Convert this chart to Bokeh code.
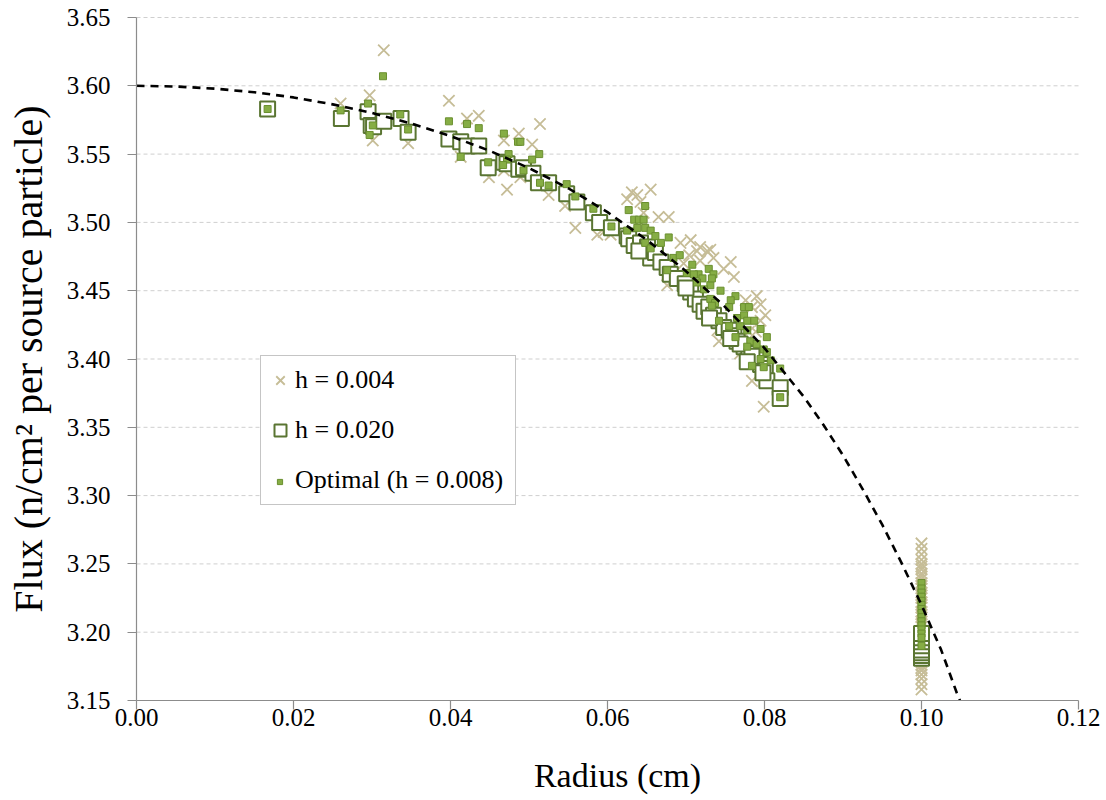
import math
from bokeh.plotting import figure
from bokeh.models import (Range1d, FixedTicker, Legend, LegendItem, ColumnDataSource)
from bokeh.core.properties import value
from bokeh.embed import file_html
from bokeh.resources import INLINE

# ---------------- data ----------------
x_ticks = [0.00, 0.02, 0.04, 0.06, 0.08, 0.10, 0.12]
y_ticks = [3.15, 3.20, 3.25, 3.30, 3.35, 3.40, 3.45, 3.50, 3.55, 3.60, 3.65]
x_tick_labels = ["0.00", "0.02", "0.04", "0.06", "0.08", "0.10", "0.12"]
y_tick_labels = ["3.15", "3.20", "3.25", "3.30", "3.35", "3.40", "3.45", "3.50", "3.55",
                 "3.60", "3.65"]
x_title = "Radius (cm)"
y_title = "Flux (n/cm\u00b2 per source particle)"

# h = 0.004 (tan crosses)
h004_r = [0.0260, 0.0297, 0.0301, 0.0297, 0.0346, 0.0315,
          0.0398, 0.0421, 0.0436, 0.0413, 0.0468, 0.0487, 0.0504, 0.0514, 0.0472, 0.0489,
          0.0449, 0.0468, 0.0525, 0.0546, 0.0559, 0.0587, 0.0595, 0.0631, 0.0625, 0.0638,
          0.0655, 0.0642, 0.0646, 0.0665, 0.0678, 0.0604, 0.0693, 0.0706, 0.0714, 0.0727,
          0.0704, 0.0735, 0.0718, 0.0676, 0.0697,
          0.0718, 0.0731, 0.0757, 0.0761, 0.0748, 0.0776, 0.0790, 0.0795, 0.0784, 0.0795,
          0.0801, 0.0742, 0.0740, 0.0784, 0.0803, 0.0799, 0.0780, 0.0789, 0.0769,
          0.1, 0.1, 0.1, 0.1, 0.1, 0.1, 0.1, 0.1, 0.1, 0.1, 0.1, 0.1, 0.1, 0.1, 0.1, 0.1,
          0.1, 0.1, 0.1, 0.1, 0.1, 0.1, 0.1, 0.1, 0.1, 0.1, 0.1, 0.1, 0.1, 0.1, 0.1,
          0.1, 0.1, 0.1, 0.1, 0.1, 0.1, 0.1, 0.1, 0.1, 0.1, 0.1, 0.1]
h004_f = [3.587, 3.593, 3.560, 3.570, 3.558, 3.626,
          3.589, 3.576, 3.578, 3.548, 3.560, 3.565, 3.557, 3.572, 3.524, 3.533,
          3.533, 3.538, 3.520, 3.512, 3.496, 3.491, 3.493, 3.522, 3.517, 3.520,
          3.524, 3.515, 3.507, 3.504, 3.504, 3.491, 3.485, 3.487, 3.479, 3.479,
          3.476, 3.474, 3.472, 3.454, 3.470,
          3.482, 3.480, 3.471, 3.460, 3.466, 3.443, 3.446, 3.440, 3.438, 3.428,
          3.432, 3.413, 3.421, 3.384, 3.387, 3.365, 3.420, 3.420, 3.404,
          3.158, 3.162, 3.166, 3.169, 3.172, 3.176, 3.180, 3.183, 3.187, 3.190, 3.193, 3.197,
          3.201, 3.204, 3.208, 3.211, 3.215, 3.218, 3.222, 3.225, 3.229, 3.232, 3.236, 3.239,
          3.243, 3.246, 3.250, 3.253, 3.257, 3.261, 3.265,
          3.174, 3.178, 3.185, 3.192, 3.199, 3.206, 3.213, 3.220, 3.227, 3.234, 3.241, 3.248]

# h = 0.020 (open squares)
h020_r = [0.0167, 0.0261, 0.0295, 0.0299, 0.0302, 0.0315, 0.0337, 0.0346,
          0.0398, 0.0413, 0.0421, 0.0436, 0.0448, 0.0468, 0.0472, 0.0487, 0.0493, 0.0505,
          0.0512, 0.0525, 0.0548, 0.0561, 0.0582, 0.0590, 0.0605, 0.0625,
          0.0627, 0.0634, 0.0642, 0.0651, 0.0655, 0.0661, 0.0668, 0.0676, 0.0680, 0.0689,
          0.0699, 0.0706, 0.0712, 0.0718, 0.0723,
          0.0729, 0.0735, 0.0742, 0.0748, 0.0755, 0.0761, 0.0765, 0.0774, 0.0780, 0.0789,
          0.0795, 0.0801, 0.0803, 0.0820, 0.0820, 0.0769, 0.0784,
          0.0640, 0.0700, 0.0730, 0.0757, 0.0778, 0.0798,
          0.1, 0.1, 0.1, 0.1, 0.1, 0.1, 0.1, 0.1]
h020_f = [3.583, 3.576, 3.581, 3.571, 3.570, 3.574, 3.576, 3.566,
          3.561, 3.559, 3.556, 3.556, 3.540, 3.544, 3.543, 3.539, 3.540, 3.536,
          3.529, 3.529, 3.521, 3.515, 3.507, 3.500, 3.496, 3.490,
          3.488, 3.483, 3.485, 3.482, 3.474, 3.478, 3.471, 3.467, 3.462, 3.459,
          3.455, 3.449, 3.444, 3.440, 3.435,
          3.438, 3.432, 3.428, 3.423, 3.421, 3.417, 3.413, 3.409, 3.404, 3.400,
          3.396, 3.393, 3.384, 3.379, 3.371, 3.411, 3.402,
          3.479, 3.452, 3.430, 3.415, 3.398, 3.390,
          3.181, 3.183, 3.185, 3.187, 3.190, 3.193, 3.196, 3.199]

# Optimal (h = 0.008) (small green squares)
opt_r = [0.0167, 0.0260, 0.0295, 0.0314, 0.0301, 0.0297, 0.0336, 0.0346,
         0.0398, 0.0421, 0.0436, 0.0413, 0.0448, 0.0468, 0.0486, 0.0489, 0.0474, 0.0472,
         0.0467, 0.0504, 0.0513, 0.0493, 0.0514, 0.0525, 0.0548, 0.0559, 0.0582, 0.0605,
         0.0627, 0.0634, 0.0640, 0.0625,
         0.0648, 0.0646, 0.0638, 0.0648, 0.0655, 0.0661, 0.0668, 0.0678, 0.0648, 0.0655,
         0.0684, 0.0692, 0.0708, 0.0676, 0.0701, 0.0716, 0.0729, 0.0735, 0.0721, 0.0714,
         0.0731, 0.0723,
         0.0710, 0.0733, 0.0744, 0.0763, 0.0757, 0.0731, 0.0737, 0.0733, 0.0755, 0.0774,
         0.0780, 0.0774, 0.0742, 0.0765, 0.0778, 0.0787, 0.0769, 0.0778, 0.0795, 0.0755,
         0.0763, 0.0782, 0.0790, 0.0803, 0.0799, 0.0778, 0.0795, 0.0784, 0.0799, 0.0808,
         0.0820, 0.0820, 0.0803,
         0.1, 0.1, 0.1, 0.1, 0.1, 0.1, 0.1, 0.1, 0.1, 0.1, 0.1, 0.1, 0.1, 0.1, 0.1]
opt_f = [3.583, 3.582, 3.587, 3.607, 3.571, 3.564, 3.579, 3.568,
         3.574, 3.572, 3.569, 3.548, 3.544, 3.565, 3.559, 3.559, 3.550, 3.546,
         3.542, 3.546, 3.550, 3.538, 3.529, 3.527, 3.528, 3.519, 3.510, 3.497,
         3.509, 3.502, 3.502, 3.494,
         3.512, 3.502, 3.496, 3.496, 3.494, 3.490, 3.485, 3.489, 3.485, 3.481,
         3.474, 3.476, 3.469, 3.465, 3.463, 3.462, 3.466, 3.462, 3.459, 3.456,
         3.454, 3.451,
         3.462, 3.459, 3.450, 3.446, 3.443, 3.444, 3.441, 3.439, 3.438, 3.438,
         3.438, 3.432, 3.428, 3.430, 3.428, 3.428, 3.424, 3.421, 3.422, 3.424,
         3.416, 3.413, 3.411, 3.416, 3.407, 3.409, 3.400, 3.395, 3.394, 3.399,
         3.393, 3.372, 3.405,
         3.236, 3.232, 3.229, 3.226, 3.223, 3.220, 3.217, 3.214, 3.211, 3.208, 3.205,
         3.202, 3.199, 3.196, 3.190]

# dashed model curve
curve_r = [0.000, 0.005, 0.010, 0.015, 0.020, 0.025, 0.030, 0.035, 0.040, 0.045,
           0.050, 0.055, 0.060, 0.065, 0.070, 0.075, 0.080, 0.085, 0.0875, 0.090,
           0.0925, 0.095, 0.0975, 0.100, 0.1025, 0.1045, 0.1049]
curve_f = [3.6000, 3.5995, 3.5979, 3.5953, 3.5915, 3.5864, 3.5801, 3.5724, 3.5632, 3.5524,
           3.5398, 3.5250, 3.5075, 3.4872, 3.4643, 3.4380, 3.4080, 3.3724, 3.3519, 3.3295,
           3.3048, 3.2787, 3.2502, 3.2200, 3.1871, 3.1555, 3.1500]

labels = ["h = 0.004", "h = 0.020", "Optimal (h = 0.008)"]

# ---------------- layout (pixels) ----------------
W, H = 1106, 795
PX_L, PX_R, PX_T, PX_B = 136, 1078, 17, 700      # plot-area edges on the canvas
x0, x1 = x_ticks[0], x_ticks[-1]
y0, y1 = y_ticks[0], y_ticks[-1]
kx = (PX_R - PX_L) / (x1 - x0)
ky = (PX_B - PX_T) / (y1 - y0)
x_range = Range1d(x0 - PX_L / kx, x1 + (W - PX_R) / kx)
y_range = Range1d(y0 - (H - PX_B) / ky, y1 + PX_T / ky)

# ---------------- styling ----------------
FONT = "Liberation Serif"
QFONT = "'Liberation Serif'"
TAN = "#c6bd97"
OLIVE = "#5a7532"
GREEN_FILL = "#86ad45"
GREEN_LINE = "#6a8f2f"
AXIS = "#8c8c8c"

p = figure(width=W, height=H, output_backend="svg", toolbar_location=None, title=None,
           x_range=x_range, y_range=y_range, min_border=0,
           background_fill_color="white", border_fill_color="white")
p.outline_line_color = None

# axes: placed at the plot-area edges, ticks only (texts drawn as serif text below)
p.xaxis.fixed_location = y0
p.yaxis.fixed_location = x0
p.xaxis.bounds = (x0, x1)
p.yaxis.bounds = (y0, y1)
p.xaxis.ticker = FixedTicker(ticks=x_ticks)
p.yaxis.ticker = FixedTicker(ticks=y_ticks)
p.xaxis.major_label_overrides = {t: "" for t in x_ticks}
p.yaxis.major_label_overrides = {t: "" for t in y_ticks}
for ax in (p.xaxis, p.yaxis):
    ax.axis_line_color = AXIS
    ax.axis_line_width = 1.2
    ax.major_tick_line_color = AXIS
    ax.major_tick_line_width = 1.2
    ax.major_tick_out = 9
    ax.major_tick_in = 0
    ax.minor_tick_line_color = None

# grid: horizontal dashed lines across the plot area only
p.xgrid.visible = False
p.ygrid.visible = False
p.segment(x0=[x0] * (len(y_ticks) - 1), y0=y_ticks[1:], x1=[x1] * (len(y_ticks) - 1),
          y1=y_ticks[1:], line_color="#cfcfcf", line_width=1, line_dash="4 3")

# tick labels and axis titles
p.text(x=x_ticks, y=[y0] * len(x_ticks), text=x_tick_labels, y_offset=8,
       text_align="center", text_baseline="top", text_font=value(QFONT),
       text_font_size="25px", text_color="black")
p.text(x=[x0] * len(y_ticks), y=y_ticks, text=y_tick_labels, x_offset=-26,
       text_align="right", text_baseline="middle", text_font=value(QFONT),
       text_font_size="25px", text_color="black")
p.text(x=[(x0 + x1) / 2], y=[y0], text=[x_title], x_offset=10, y_offset=75,
       text_align="center", text_baseline="middle", text_font=value(QFONT),
       text_font_size="34px", text_color="black")
p.text(x=[x0], y=[(y0 + y1) / 2], text=[y_title], x_offset=-108, angle=math.pi / 2,
       text_align="center", text_baseline="middle", text_font=value(QFONT),
       text_font_size="40px", text_color="black")

# ---------------- glyphs ----------------
src004 = ColumnDataSource(dict(r=h004_r, f=h004_f))
src020 = ColumnDataSource(dict(r=h020_r, f=h020_f))
srcopt = ColumnDataSource(dict(r=opt_r, f=opt_f))

r004 = p.scatter("r", "f", source=src004, marker="x", size=16,
                 line_color=TAN, line_width=1.8)
r020 = p.scatter("r", "f", source=src020, marker="square", size=15,
                 fill_color="white", line_color=OLIVE, line_width=2)
ropt = p.scatter("r", "f", source=srcopt, marker="square", size=7,
                 fill_color=GREEN_FILL, line_color=GREEN_LINE, line_width=1)
p.line(curve_r, curve_f, line_color="black", line_width=2.6, line_dash="8 6")

# dummy invisible renderer for the "Optimal" legend row (drawn small by a second legend)
rdummy = p.scatter(x=[], y=[], marker="square", size=1, fill_alpha=0, line_alpha=0)

# ---------------- legend ----------------
legA = Legend(items=[LegendItem(label=labels[0], renderers=[r004]),
                     LegendItem(label=labels[1], renderers=[r020]),
                     LegendItem(label=labels[2], renderers=[rdummy])],
              location=(260, H - 505), orientation="vertical",
              glyph_width=30, glyph_height=40, label_height=40, label_width=216,
              label_standoff=0, padding=4, spacing=10, margin=0,
              label_text_font=FONT, label_text_font_size="26px",
              label_text_color="black",
              border_line_color="#8c8c8c", border_line_width=1.2,
              background_fill_color="white", background_fill_alpha=1.0)
legB = Legend(items=[LegendItem(label=" ", renderers=[ropt])],
              location=(272.5, H - 487.5), orientation="vertical",
              glyph_width=13, glyph_height=13, label_height=13, label_width=0,
              label_standoff=0, padding=0, spacing=0, margin=0,
              label_text_font_size="8px",
              border_line_color=None, background_fill_alpha=0)
p.add_layout(legA)
p.add_layout(legB)

open("out.html", "w").write(file_html(p, INLINE))
